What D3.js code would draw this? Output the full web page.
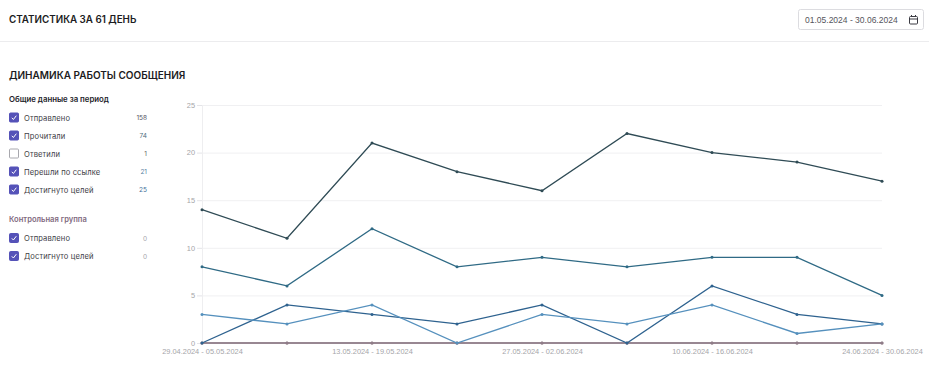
<!DOCTYPE html>
<html lang="ru">
<head>
<meta charset="utf-8">
<script src="https://cdn.jsdelivr.net/npm/d3@7"></script>
<style>
  html, body { margin: 0; padding: 0; background: #fff; }
  svg { display: block; font-family: Inter, "Noto Sans", sans-serif; }
  .axis text { font-family: "Liberation Sans", Arial, sans-serif; font-size: 7.4px; fill: #a5a5a9; }
  .axis path { display: none; }
</style>
</head>
<body>
<div id="chart"></div>
<script>
// values
var weeks = ["29.04.2024 - 05.05.2024", "06.05.2024 - 12.05.2024", "13.05.2024 - 19.05.2024",
    "20.05.2024 - 26.05.2024", "27.05.2024 - 02.06.2024", "03.06.2024 - 09.06.2024",
    "10.06.2024 - 16.06.2024", "17.06.2024 - 23.06.2024", "24.06.2024 - 30.06.2024"];
var sent = [14, 11, 21, 18, 16, 22, 20, 19, 17];
var opened = [8, 6, 12, 8, 9, 8, 9, 9, 5];
var links = [3, 2, 4, 0, 3, 2, 4, 1, 2];
var goals = [0, 4, 3, 2, 4, 0, 6, 3, 2];
var controlSent = [0, 0, 0, 0, 0, 0, 0, 0, 0];
var controlGoals = [0, 0, 0, 0, 0, 0, 0, 0, 0];
var yTicks = [0, 5, 10, 15, 20, 25];

var mainLabels = ["Отправлено", "Прочитали", "Ответили", "Перешли по ссылке", "Достигнуто целей"];
var mainTotals = [158, 74, 1, 21, 25];
var mainChecked = [true, true, false, true, true];
var mainTotalColors = ["#55555f", "#4f6f80", "#666", "#5a7f9f", "#3f6f9a"];
var controlLabels = ["Отправлено", "Достигнуто целей"];
var controlTotals = [0, 0];

var W = 929, H = 372;
var svg = d3.select("#chart").append("svg").attr("width", W).attr("height", H);

// header
svg.append("text").attr("x", 9).attr("y", 23)
    .attr("font-size", 9.8).attr("font-weight", 600).attr("fill", "#1c1c22")
    .text("СТАТИСТИКА ЗА 61 ДЕНЬ");
svg.append("line").attr("x1", 0).attr("x2", W).attr("y1", 41.5).attr("y2", 41.5)
    .attr("stroke", "#ececee");

// date picker
svg.append("rect").attr("x", 798.5).attr("y", 9.5).attr("width", 125).attr("height", 20).attr("rx", 2)
    .attr("fill", "#fff").attr("stroke", "#dcdce0");
svg.append("text").attr("x", 805).attr("y", 22.5)
    .attr("font-family", "'Liberation Sans', Arial, sans-serif").attr("font-size", 8.5).attr("fill", "#55555c")
    .text("01.05.2024 - 30.06.2024");
var cal = svg.append("g").attr("transform", "translate(909,15)")
    .attr("fill", "none").attr("stroke", "#3a3a42").attr("stroke-width", 1);
cal.append("rect").attr("x", 0.5).attr("y", 1.5).attr("width", 8).attr("height", 7.5).attr("rx", 1);
cal.append("line").attr("x1", 0.5).attr("x2", 8.5).attr("y1", 4).attr("y2", 4);
cal.append("line").attr("x1", 2.5).attr("x2", 2.5).attr("y1", 0).attr("y2", 1.5);
cal.append("line").attr("x1", 6.5).attr("x2", 6.5).attr("y1", 0).attr("y2", 1.5);

svg.append("text").attr("x", 9).attr("y", 79)
    .attr("font-size", 10).attr("font-weight", 600).attr("fill", "#1c1c22")
    .text("ДИНАМИКА РАБОТЫ СООБЩЕНИЯ");

// legend blocks
svg.append("text").attr("x", 9).attr("y", 102)
    .attr("font-size", 7.8).attr("font-weight", 600).attr("fill", "#24242a")
    .text("Общие данные за период");
svg.append("text").attr("x", 9).attr("y", 222)
    .attr("font-size", 7.6).attr("font-weight", 600).attr("fill", "#7f6a80")
    .text("Контрольная группа");

function legendRow(y, label, total, checked, totalColor) {
    var g = svg.append("g").attr("transform", "translate(9," + y + ")");
    g.append("rect").attr("x", 0.5).attr("y", -4.5).attr("width", 9).attr("height", 9).attr("rx", 1)
        .attr("fill", checked ? "#5552b8" : "#fff")
        .attr("stroke", checked ? "#5552b8" : "#a8a8ae");
    if (checked) {
        g.append("path").attr("d", "M2.8,0.3 L4.4,2 L7.3,-1.8")
            .attr("fill", "none").attr("stroke", "#fff").attr("stroke-width", 1);
    }
    g.append("text").attr("x", 15).attr("y", 3)
        .attr("font-size", 7.6).attr("letter-spacing", 0.1).attr("fill", "#3e3e46").text(label);
    g.append("text").attr("x", 138).attr("y", 2.5).attr("text-anchor", "end")
        .attr("font-size", 6.5).attr("fill", totalColor).text(total);
}
mainLabels.forEach(function(d, i) {
    legendRow(117.5 + i * 18, d, mainTotals[i], mainChecked[i], mainTotalColors[i]);
});
controlLabels.forEach(function(d, i) {
    legendRow(238 + i * 18, d, controlTotals[i], true, "#a5a5ab");
});

// chart
var x = d3.scalePoint().domain(weeks).range([202, 882]);
var y = d3.scaleLinear().domain([0, 25]).range([343, 105]);

svg.append("g").selectAll("line").data(yTicks.filter(function(d) { return d > 0; })).enter().append("line")
    .attr("x1", 202).attr("x2", 882)
    .attr("y1", function(d) { return y(d) + 0.5; })
    .attr("y2", function(d) { return y(d) + 0.5; })
    .attr("stroke", "#f0f0f2");
svg.append("line").attr("x1", 202.5).attr("x2", 202.5).attr("y1", 105).attr("y2", 343)
    .attr("stroke", "#eeeef0");

var yAxis = d3.axisLeft(y).tickValues(yTicks).tickSize(5).tickPadding(2);
var yG = svg.append("g").attr("class", "axis").attr("transform", "translate(202,0)").call(yAxis);
yG.selectAll("line").attr("stroke", "#e4e4e8");

var xAxis = d3.axisBottom(x)
    .tickValues(weeks.filter(function(d, i) { return i % 2 === 0; }))
    .tickSize(0).tickPadding(6);
svg.append("g").attr("class", "axis").attr("transform", "translate(0,343)").call(xAxis);

var line = d3.line()
    .x(function(d, i) { return x(weeks[i]); })
    .y(function(d) { return y(d); });

var series = [
    { values: controlGoals, color: "#9a8a94" },
    { values: controlSent, color: "#8f7c88" },
    { values: sent, color: "#2f4b55" },
    { values: opened, color: "#2f6a85" },
    { values: goals, color: "#2e628f" },
    { values: links, color: "#5590bd" }
];
series.forEach(function(s) {
    svg.append("path").attr("d", line(s.values))
        .attr("fill", "none").attr("stroke", s.color).attr("stroke-width", 1.3);
    svg.append("g").selectAll("circle").data(s.values).enter().append("circle")
        .attr("cx", function(d, i) { return x(weeks[i]); })
        .attr("cy", function(d) { return y(d); })
        .attr("r", 1.5).attr("fill", s.color);
});
</script>
</body>
</html>
